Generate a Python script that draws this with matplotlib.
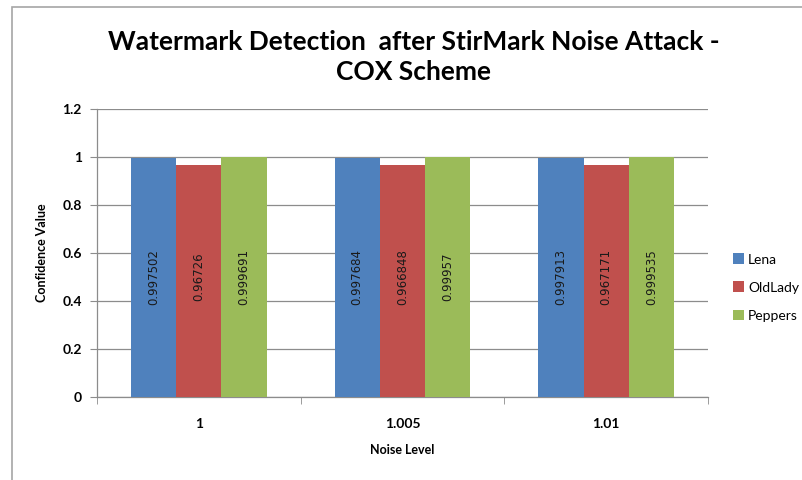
import matplotlib.pyplot as plt
import numpy as np
from matplotlib.patches import Rectangle

# data
levels = ['1', '1.005', '1.01']
series = ['Lena', 'OldLady', 'Peppers']
lena = [0.997502, 0.997684, 0.997913]
oldlady = [0.96726, 0.966848, 0.967171]
peppers = [0.999691, 0.99957, 0.999535]
labels = [['0.997502', '0.997684', '0.997913'],
          ['0.96726', '0.966848', '0.967171'],
          ['0.999691', '0.99957', '0.999535']]
colors = ['#4F81BD', '#C0504D', '#9BBB59']

fig = plt.figure(figsize=(8.03, 4.8), dpi=100)
# outer chart frame (only top/left visible in the crop)
fig.patches.append(Rectangle((12 / 803, -0.1), 1.2, 1 - 7 / 480 + 0.1, transform=fig.transFigure,
                             fill=False, edgecolor='#a6a6a6', linewidth=1.2))

ax = fig.add_axes([97 / 803, 1 - 397 / 480, 611 / 803, 288 / 480])

x = np.arange(len(levels))
w = 1 / 4.5  # excel gap width 150%
for k, vals in enumerate([lena, oldlady, peppers]):
    pos = x + (k - 1) * w
    ax.bar(pos, vals, w, color=colors[k], label=series[k], zorder=3)
    for p, lab in zip(pos, labels[k]):
        ax.text(p, 0.5, lab, rotation=90, ha='center', va='center', fontsize=8.5,
                family='DejaVu Sans', color='#1a1a1a', zorder=4)

ax.set_xlim(-0.5, 2.5)
ax.set_ylim(0, 1.2)
ax.set_yticks(np.arange(0, 1.21, 0.2))
ax.set_yticklabels(['0', '0.2', '0.4', '0.6', '0.8', '1', '1.2'])
ax.yaxis.grid(True, color='#8c8c8c', linewidth=0.9, zorder=0)
ax.set_xticks(x)
ax.set_xticklabels(levels)
ax.set_xticks([-0.5, 0.5, 1.5, 2.5], minor=True)
ax.tick_params(axis='x', which='major', length=0, pad=15)
ax.tick_params(axis='x', which='minor', length=5, color='#8c8c8c', direction='out')
ax.tick_params(axis='y', length=5, color='#8c8c8c', direction='out', pad=6)
for lab in ax.get_xticklabels() + ax.get_yticklabels():
    lab.set_fontweight('bold')
    lab.set_fontsize(10)
    lab.set_family('Lato')

for s in ['top', 'right']:
    ax.spines[s].set_visible(False)
for s in ['left', 'bottom']:
    ax.spines[s].set_color('#8c8c8c')
    ax.spines[s].set_linewidth(0.9)

ax.set_xlabel('Noise Level', fontsize=9, fontweight='bold', family='Lato', labelpad=10)
ax.set_ylabel('Confidence Value', fontsize=9, fontweight='bold', family='Lato', labelpad=10)

fig.text(0.515, 1 - 57 / 480, 'Watermark Detection  after StirMark Noise Attack -\nCOX Scheme',
         ha='center', va='center', fontsize=19, fontweight='bold', family='Lato', linespacing=1.3)

ax.legend(loc='center left', bbox_to_anchor=(1.02, 0.38), frameon=False,
          handlelength=0.8, handleheight=0.8, handletextpad=0.3, labelspacing=1.15,
          prop={'family': 'Lato', 'size': 10})

fig.savefig('out.png', dpi=100)
